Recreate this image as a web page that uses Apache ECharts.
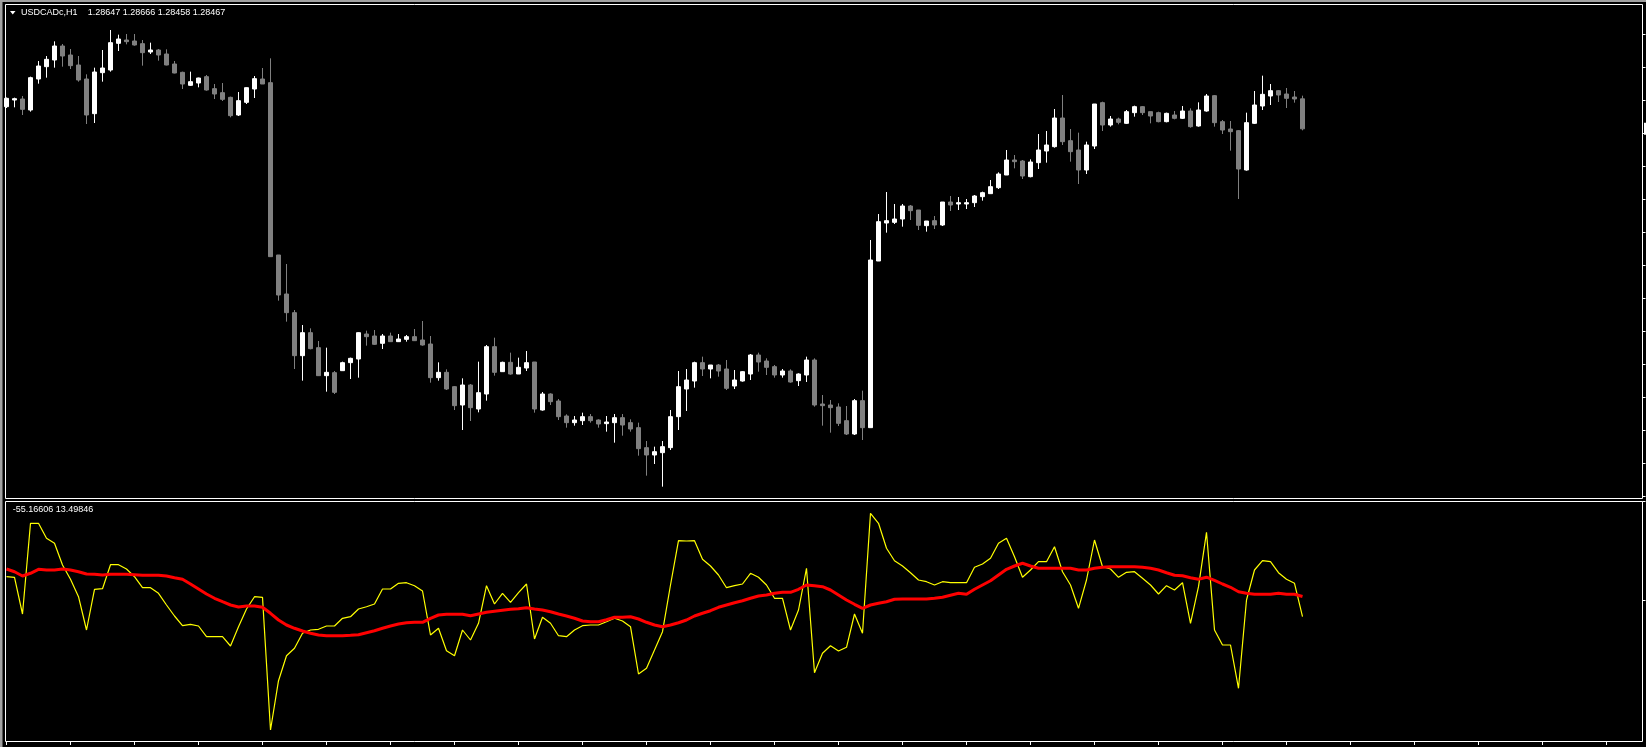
<!DOCTYPE html>
<html><head><meta charset="utf-8">
<script src="https://cdn.jsdelivr.net/npm/echarts@6.0.0/dist/echarts.min.js"></script>
<style>html,body{margin:0;padding:0;background:#000;overflow:hidden}#c{width:1646px;height:747px}</style>
</head><body><div id="c"></div><script>
const symbolLabel = 'USDCADc,H1';
const opens = [1.28600,1.28640,1.28646,1.28580,1.28766,1.28840,1.28880,1.28964,1.28910,1.28850,
1.28766,1.28558,1.28804,1.28820,1.28980,1.29000,1.28994,1.28978,1.28928,1.28940,
1.28916,1.28856,1.28806,1.28728,1.28742,1.28780,1.28708,1.28684,1.28656,1.28550,
1.28626,1.28706,1.28766,1.28744,1.27710,1.27476,1.27364,1.27106,1.27244,1.27154,
1.26986,1.27004,1.27016,1.27064,1.27086,1.27236,1.27224,1.27180,1.27224,1.27190,
1.27204,1.27220,1.27200,1.27176,1.26974,1.27006,1.26920,1.26810,1.26930,1.26786,
1.26876,1.27160,1.27010,1.27066,1.26996,1.27032,1.27068,1.26780,1.26876,1.26834,
1.26744,1.26704,1.26716,1.26740,1.26720,1.26698,1.26704,1.26734,1.26704,1.26674,
1.26554,1.26510,1.26524,1.26554,1.26740,1.26906,1.26954,1.27064,1.27026,1.27050,
1.27026,1.26924,1.26954,1.26996,1.27110,1.27074,1.27040,1.26990,1.27014,1.26956,
1.26990,1.27080,1.26816,1.26810,1.26798,1.26716,1.26636,1.26836,1.26674,1.27674,
1.27902,1.27906,1.27926,1.28004,1.27980,1.27886,1.27916,1.27890,1.28028,1.28016,
1.28016,1.28024,1.28060,1.28078,1.28114,1.28190,1.28280,1.28274,1.28180,1.28264,
1.28334,1.28360,1.28532,1.28396,1.28340,1.28220,1.28364,1.28624,1.28490,1.28526,
1.28500,1.28564,1.28600,1.28570,1.28564,1.28510,1.28550,1.28530,1.28574,1.28484,
1.28574,1.28666,1.28510,1.28466,1.28456,1.28220,1.28500,1.28604,1.28664,1.28696,
1.28676,1.28658,1.28647];
const closes = [1.28650,1.28648,1.28584,1.28774,1.28844,1.28884,1.28964,1.28904,1.28846,1.28760,
1.28550,1.28808,1.28832,1.28984,1.29006,1.28990,1.28970,1.28924,1.28940,1.28910,
1.28850,1.28802,1.28736,1.28750,1.28772,1.28700,1.28676,1.28644,1.28546,1.28636,
1.28714,1.28768,1.28736,1.27700,1.27470,1.27364,1.27106,1.27244,1.27148,1.26986,
1.27006,1.26886,1.27064,1.27090,1.27244,1.27220,1.27174,1.27224,1.27190,1.27206,
1.27220,1.27196,1.27170,1.26974,1.27006,1.26906,1.26806,1.26930,1.26794,1.26884,
1.27160,1.27006,1.27066,1.26996,1.27036,1.27064,1.26786,1.26876,1.26830,1.26740,
1.26704,1.26720,1.26740,1.26716,1.26696,1.26708,1.26734,1.26690,1.26666,1.26548,
1.26510,1.26530,1.26560,1.26740,1.26920,1.26960,1.27064,1.27026,1.27050,1.27014,
1.26910,1.26960,1.27010,1.27110,1.27068,1.27036,1.26990,1.27014,1.26948,1.26996,
1.27080,1.26810,1.26806,1.26794,1.26700,1.26636,1.26836,1.26674,1.27680,1.27910,
1.27916,1.27926,1.28004,1.27976,1.27888,1.27914,1.27890,1.28028,1.28010,1.28024,
1.28024,1.28064,1.28084,1.28120,1.28196,1.28280,1.28270,1.28184,1.28268,1.28340,
1.28370,1.28532,1.28390,1.28330,1.28220,1.28370,1.28616,1.28490,1.28526,1.28506,
1.28570,1.28600,1.28564,1.28544,1.28510,1.28560,1.28530,1.28574,1.28480,1.28580,
1.28664,1.28504,1.28460,1.28450,1.28226,1.28504,1.28610,1.28674,1.28696,1.28670,
1.28650,1.28646,1.28467];
const lows = [1.28592,1.28596,1.28550,1.28570,1.28738,1.28774,1.28834,1.28840,1.28826,1.28750,
1.28496,1.28502,1.28750,1.28810,1.28934,1.28974,1.28966,1.28846,1.28916,1.28876,
1.28848,1.28800,1.28706,1.28724,1.28716,1.28696,1.28646,1.28634,1.28536,1.28544,
1.28616,1.28652,1.28736,1.27698,1.27436,1.27310,1.27026,1.26956,1.27144,1.26984,
1.26890,1.26876,1.27014,1.26966,1.26974,1.27166,1.27170,1.27146,1.27188,1.27188,
1.27190,1.27194,1.27166,1.26944,1.26956,1.26900,1.26780,1.26660,1.26714,1.26766,
1.26836,1.26986,1.27008,1.26992,1.26996,1.27014,1.26764,1.26776,1.26810,1.26720,
1.26674,1.26686,1.26690,1.26704,1.26674,1.26650,1.26584,1.26626,1.26650,1.26506,
1.26386,1.26456,1.26320,1.26540,1.26660,1.26774,1.26914,1.26984,1.26970,1.26980,
1.26900,1.26906,1.26950,1.26960,1.27010,1.26990,1.26974,1.26974,1.26944,1.26924,
1.26948,1.26800,1.26686,1.26644,1.26684,1.26630,1.26630,1.26600,1.26674,1.27674,
1.27844,1.27896,1.27880,1.27920,1.27860,1.27850,1.27866,1.27884,1.27974,1.27980,
1.27986,1.27998,1.28036,1.28078,1.28106,1.28190,1.28230,1.28166,1.28176,1.28226,
1.28264,1.28354,1.28370,1.28270,1.28136,1.28196,1.28346,1.28454,1.28480,1.28494,
1.28496,1.28540,1.28550,1.28500,1.28506,1.28506,1.28524,1.28526,1.28474,1.28480,
1.28570,1.28480,1.28436,1.28336,1.28046,1.28216,1.28496,1.28580,1.28610,1.28628,
1.28592,1.28624,1.28458];
const highs = [1.28655,1.28654,1.28664,1.28780,1.28874,1.28904,1.28992,1.28976,1.28946,1.28904,
1.28794,1.28834,1.28940,1.29060,1.29032,1.29036,1.29036,1.29000,1.28984,1.28946,
1.28944,1.28874,1.28810,1.28810,1.28774,1.28790,1.28736,1.28742,1.28660,1.28688,
1.28716,1.28784,1.28832,1.28890,1.27710,1.27656,1.27380,1.27290,1.27270,1.27194,
1.27154,1.27014,1.27070,1.27094,1.27246,1.27256,1.27260,1.27236,1.27244,1.27236,
1.27230,1.27266,1.27314,1.27224,1.27066,1.27024,1.26924,1.26970,1.26936,1.27070,
1.27170,1.27214,1.27070,1.27124,1.27094,1.27134,1.27068,1.26888,1.26880,1.26846,
1.26754,1.26744,1.26764,1.26756,1.26724,1.26744,1.26756,1.26756,1.26724,1.26704,
1.26594,1.26560,1.26594,1.26780,1.27014,1.27026,1.27070,1.27100,1.27050,1.27056,
1.27080,1.27020,1.27014,1.27116,1.27124,1.27090,1.27050,1.27026,1.27024,1.27000,
1.27100,1.27090,1.26870,1.26840,1.26820,1.26804,1.26846,1.26896,1.27800,1.27956,
1.28088,1.28016,1.28016,1.28010,1.27980,1.27914,1.27944,1.28028,1.28064,1.28058,
1.28046,1.28070,1.28090,1.28160,1.28206,1.28340,1.28310,1.28280,1.28284,1.28436,
1.28454,1.28586,1.28670,1.28466,1.28444,1.28390,1.28616,1.28630,1.28544,1.28534,
1.28580,1.28606,1.28604,1.28570,1.28570,1.28564,1.28574,1.28604,1.28590,1.28626,
1.28676,1.28670,1.28520,1.28514,1.28460,1.28564,1.28694,1.28786,1.28736,1.28700,
1.28712,1.28694,1.28666];
const oscMain = [80.9,78.9,-45.9,262.5,262.5,211.5,194.5,120.7,72.1,12.9,
-100.3,38.1,40.1,121.7,121.7,107.1,80.9,43.5,43.5,24.5,
-15.3,-52.7,-85.7,-80.9,-86.7,-123.1,-123.1,-123.1,-154.7,-89.1,
-28.9,12.9,10.9,-440.3,-272.7,-187.7,-162.5,-111.5,-100.3,-97.9,
-86.7,-86.7,-60.5,-55.1,-28.9,-21.1,-11.9,39.1,39.1,58.5,
60.5,50.0,32.3,-117.3,-94.5,-170.7,-187.7,-100.3,-134.3,-77.5,
50.3,-11.9,24.5,-6.1,26.5,56.1,-130.9,-57.1,-77.5,-119.7,
-123.1,-100.3,-85.7,-83.3,-83.3,-72.1,-60.5,-69.7,-89.1,-249.9,
-230.5,-168.3,-106.1,52.7,203.3,202.3,203.3,140.1,117.3,86.7,
43.5,50.3,56.1,92.5,78.9,52.7,7.5,7.5,-100.3,-32.3,
109.5,-245.5,-179.5,-153.7,-171.7,-159.1,-45.9,-111.5,296.5,262.5,
177.5,135.3,117.3,94.5,69.7,63.9,52.7,63.9,60.5,60.5,
60.5,112.9,124.1,143.5,194.5,211.5,148.9,78.9,103.7,131.9,
131.9,182.9,97.9,52.7,-26.5,69.7,205.7,114.9,107.1,78.9,
95.9,97.9,75.5,52.7,22.1,50.3,35.7,60.5,-77.5,46.9,
231.9,-100.3,-151.3,-151.3,-298.5,1.7,103.7,135.3,131.9,94.5,
72.1,58.5,-55.16606];
const oscSignal = [107.1,97.9,83.3,92.5,106.1,103.7,103.7,107.1,103.7,97.9,
90.1,89.1,86.7,89.1,89.1,89.1,87.7,85.7,85.7,85.7,
83.3,77.5,72.1,56.1,39.1,22.1,7.5,-4.1,-15.3,-22.1,
-18.7,-18.7,-23.1,-43.5,-66.3,-83.3,-94.5,-103.7,-111.5,-117.3,
-119.7,-119.7,-119.7,-118.3,-116.3,-109.5,-102.7,-94.5,-86.7,-79.9,
-75.5,-74.1,-74.1,-60.5,-49.3,-46.9,-46.9,-46.9,-51.7,-45.9,
-40.1,-36.7,-33.3,-29.9,-27.9,-24.5,-28.9,-32.3,-38.1,-45.9,
-52.7,-60.5,-69.7,-72.1,-72.1,-65.3,-57.1,-57.1,-55.1,-62.9,
-74.1,-83.3,-89.1,-83.3,-75.5,-66.3,-52.7,-43.5,-34.7,-23.1,
-15.3,-7.5,-0.7,7.5,15.3,18.7,24.5,27.9,27.9,38.1,
52.7,50.3,46.9,35.7,18.7,1.7,-12.9,-26.5,-15.3,-9.5,
-4.1,4.1,5.1,5.1,5.1,5.1,7.5,10.9,17.7,24.5,
21.1,38.1,52.7,67.3,86.7,106.1,117.3,126.5,117.3,109.5,
109.5,109.5,109.5,109.5,103.7,103.7,109.5,112.9,114.9,114.9,
114.9,114.9,112.9,109.5,103.7,94.5,85.7,84.3,77.5,72.1,
79.2,68.5,56.1,44.9,29.9,24.5,21.1,21.1,21.1,24.5,
21.1,21.1,13.49846];
const priceTicks = [1.26264,1.26462,1.26660,1.26858,1.27056,1.27254,1.27452,1.27650,1.27848,1.28046,1.28244,1.28442,1.28640,1.28838,1.29036];
const oscTicks = [338.3, 0];
const totalSlots = 205;
const categories = Array.from({length: totalSlots}, (_, i) => String(i));

const last = opens.length - 1;
const ohlcText = [opens[last], highs[last], lows[last], closes[last]].map(v => v.toFixed(5)).join(' ');
const oscText = oscMain[last].toFixed(5) + ' ' + oscSignal[last].toFixed(5);
const candleData = opens.map((o, i) => [o, closes[i], lows[i], highs[i]]);

const chart = echarts.init(document.getElementById('c'), null, {renderer: 'canvas'});
chart.setOption({
  backgroundColor: '#000000',
  animation: false,
  grid: [
    {left: 6.5, top: 4, width: 1632, height: 492, containLabel: false, outerBoundsMode: 'none'},
    {left: 6.5, top: 501, width: 1632, height: 240, containLabel: false, outerBoundsMode: 'none'}
  ],
  xAxis: [
    {gridIndex: 0, type: 'category', data: categories, boundaryGap: false,
      axisLine: {show: false, onZero: false}, axisTick: {show: false}, axisLabel: {show: false}, splitLine: {show: false}},
    {gridIndex: 1, type: 'category', data: categories, boundaryGap: false, position: 'bottom',
      axisLine: {show: false, onZero: false}, axisLabel: {show: false}, splitLine: {show: false},
      axisTick: {show: true, interval: 7, length: 4, inside: false, lineStyle: {color: '#ffffff', width: 1}}}
  ],
  yAxis: [
    {gridIndex: 0, type: 'value', position: 'right', offset: 4, min: 1.26264, max: 1.29216, scale: true,
      splitLine: {show: false}, axisLine: {show: false},
      axisTick: {show: true, length: 3, customValues: priceTicks, lineStyle: {color: '#ffffff'}},
      axisLabel: {show: true, customValues: [closes[last]], margin: 1.5, fontSize: 9, color: '#000000',
        backgroundColor: '#ffffff', padding: [2, 4, 1, 4], fontFamily: 'Liberation Sans',
        formatter: v => v.toFixed(5)}},
    {gridIndex: 1, type: 'value', position: 'right', offset: 4, min: -477.7, max: 338.3,
      splitLine: {show: false}, axisLine: {show: false},
      axisTick: {show: true, length: 3, customValues: oscTicks, lineStyle: {color: '#ffffff'}},
      axisLabel: {show: false}}
  ],
  series: [
    {type: 'candlestick', xAxisIndex: 0, yAxisIndex: 0, data: candleData, barWidth: 4, silent: true,
      itemStyle: {color: '#ffffff', color0: '#808080', borderColor: '#ffffff', borderColor0: '#808080', borderWidth: 1},
      emphasis: {disabled: true}},
    {type: 'line', xAxisIndex: 1, yAxisIndex: 1, data: oscMain, showSymbol: false, symbol: 'none', silent: true,
      lineStyle: {color: '#ffff00', width: 1.2}, z: 2},
    {type: 'line', xAxisIndex: 1, yAxisIndex: 1, data: oscSignal, showSymbol: false, symbol: 'none', silent: true,
      lineStyle: {color: '#ff0000', width: 3}, z: 3}
  ],
  graphic: [
    {type: 'rect', silent: true, z: 100, shape: {x: 0, y: 0, width: 1646, height: 2}, style: {fill: '#a0a0a0'}},
    {type: 'rect', silent: true, z: 100, shape: {x: 0, y: 0, width: 2.5, height: 747}, style: {fill: '#a0a0a0'}},
    {type: 'rect', silent: true, z: 100, shape: {x: 5.5, y: 4.5, width: 1637, height: 494}, style: {fill: null, stroke: '#ffffff', lineWidth: 1}},
    {type: 'rect', silent: true, z: 100, shape: {x: 5.5, y: 501.5, width: 1637, height: 240}, style: {fill: null, stroke: '#ffffff', lineWidth: 1}},
    {type: 'polygon', silent: true, z: 100, shape: {points: [[10, 11], [15.5, 11], [12.75, 14.5]]}, style: {fill: '#ffffff'}},
    {type: 'text', silent: true, z: 100, x: 21, y: 13, style: {text: symbolLabel, fill: '#ffffff', fontSize: 9, fontFamily: 'Liberation Sans', verticalAlign: 'middle'}},
    {type: 'text', silent: true, z: 100, x: 87.7, y: 13, style: {text: ohlcText, fill: '#ffffff', fontSize: 9, fontFamily: 'Liberation Sans', verticalAlign: 'middle'}},
    {type: 'text', silent: true, z: 100, x: 12.7, y: 510, style: {text: oscText, fill: '#ffffff', fontSize: 9, fontFamily: 'Liberation Sans', verticalAlign: 'middle'}}
  ]
});
</script></body></html>
